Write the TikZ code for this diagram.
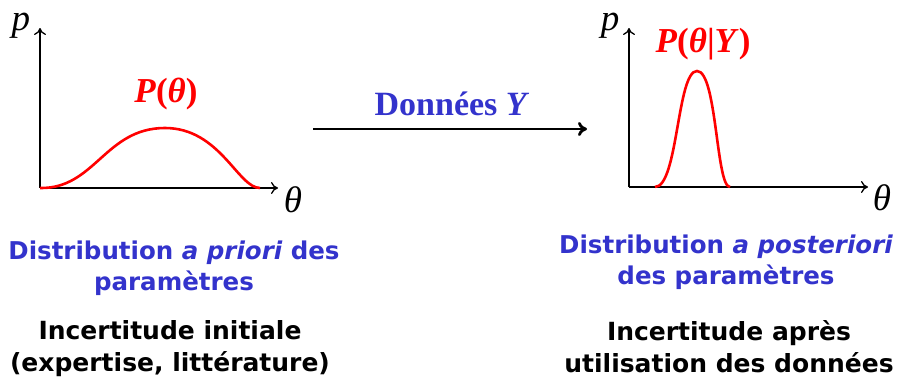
\documentclass[tikz,border=0pt]{standalone}
\usepackage{fontspec}
\setmainfont{Liberation Serif}
\newfontfamily\comicfont{DejaVu Sans}
\usepackage{xcolor}
\usetikzlibrary{arrows.meta, positioning}

\definecolor{dataBlue}{RGB}{51,51,204}
\definecolor{curveRed}{RGB}{255,0,0}

\begin{document}
\begin{tikzpicture}[x=1pt, y=-1pt,
  axis/.style={-{To[length=7pt, width=12pt]}, line width=1.3pt, black},
  curve/.style={curveRed, line width=2.6pt},
  axlabel/.style={font=\fontsize{37}{37}\selectfont\itshape, inner sep=0pt},
  dens/.style={curveRed, font=\fontsize{35}{35}\selectfont\bfseries, inner sep=0pt},
  caption/.style={dataBlue, font=\fontsize{24.5}{31}\selectfont\comicfont\bfseries, align=center, inner sep=0pt},
  remark/.style={black, font=\fontsize{25}{32}\selectfont\comicfont\bfseries, align=center, inner sep=0pt},
  arrow/.style={-{To[length=9pt, width=14pt]}, line width=2.8pt, black},
]
  \useasboundingbox (0,0) rectangle (898,391);

  % prior
  \coordinate (o1) at (40,188);
  \coordinate (y1) at (40,28);
  \coordinate (x1) at (278,188);
  \draw[axis] (o1) -- (y1);
  \draw[axis] (o1) -- (x1);
  \node[axlabel] (p1) at (21,26) {p};
  \node[axlabel] (t1) at (293,200) {θ};
  \draw[curve] (o1) .. controls (95,189) and (105,128) .. (165,128)
    .. controls (220,128) and (238,188) .. (260,188);
  \node[dens] (prior) at (166,94) {\textit{P}(\textit{θ})};

  % posterior
  \coordinate (o2) at (629,187);
  \coordinate (y2) at (629,28);
  \coordinate (x2) at (868,187);
  \coordinate (s2) at (655,187);
  \draw[axis] (o2) -- (y2);
  \draw[axis] (o2) -- (x2);
  \node[axlabel] (p2) at (610,26) {p};
  \node[axlabel] (t2) at (882,198) {θ};
  \draw[curve] (s2) .. controls (678,187) and (677,71) .. (697,71)
    .. controls (717,71) and (716,187) .. (730,187);
  \node[dens] (post) at (703,44) {\textit{P}(\textit{θ}|\textit{Y})};

  % donnees
  \coordinate (dstart) at (313,129);
  \coordinate (dend) at (587,129);
  \draw[arrow] (dstart) -- (dend);
  \node[dataBlue, font=\fontsize{34}{34}\selectfont\bfseries, inner sep=0pt] (donnees) at (452,104) {Données \textit{Y}};

  % textes
  \node[caption] (capprior) at (174,268) {Distribution {\itshape a priori} des\\paramètres};
  \node[remark] (remprior) at (170,349) {Incertitude initiale\\(expertise, littérature)};
  \node[caption] (cappost) at (726,262) {Distribution {\itshape a posteriori}\\des paramètres};
  \node[remark] (rempost) at (729,347) {Incertitude après\\utilisation des données};
\end{tikzpicture}
\end{document}
